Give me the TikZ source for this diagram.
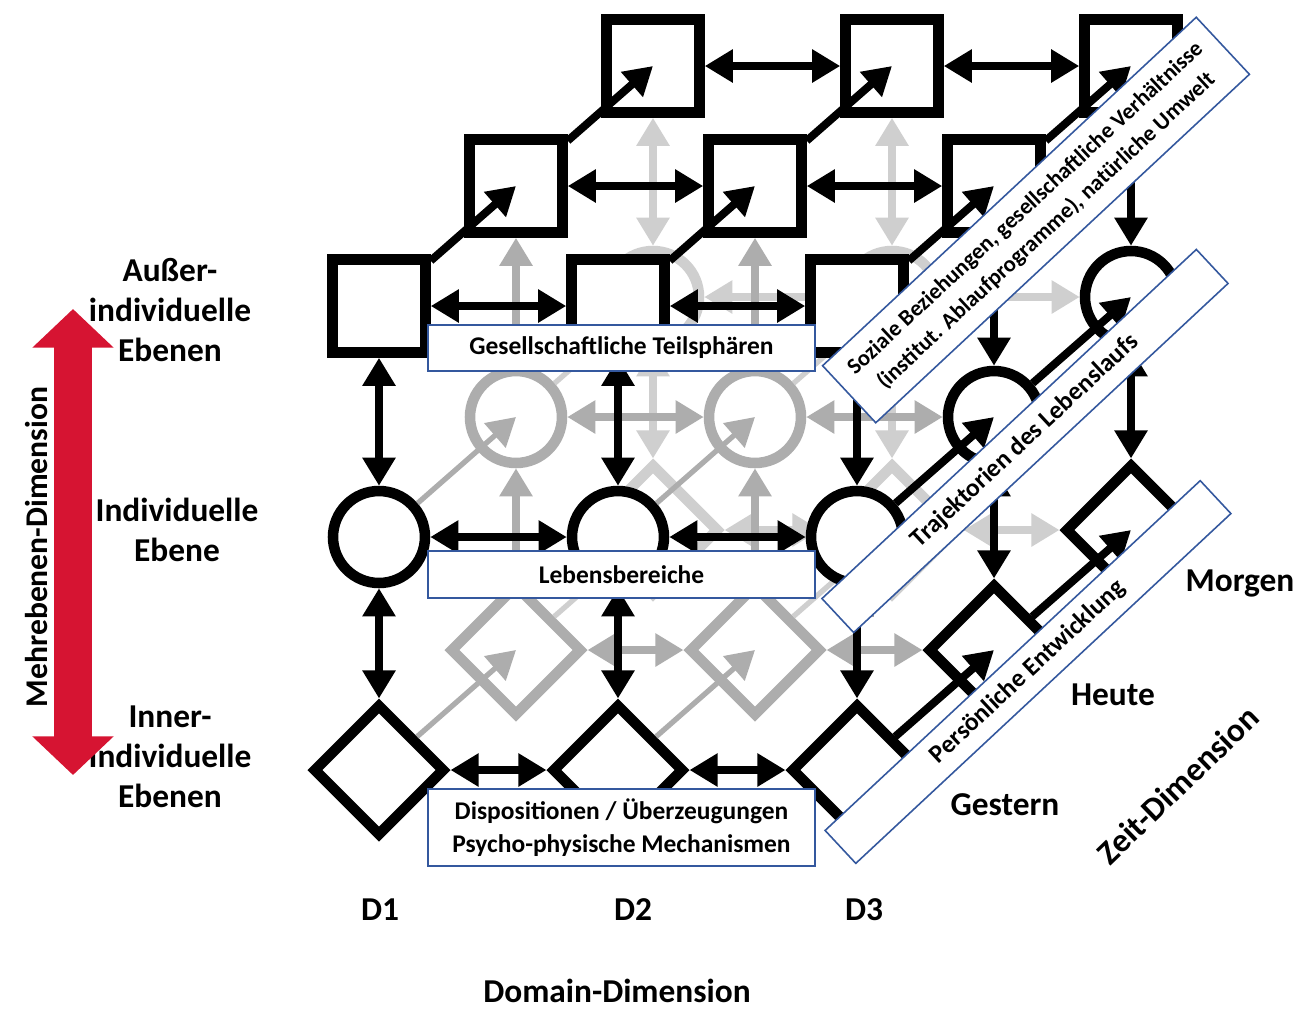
\documentclass[tikz,border=0pt]{standalone}
\usepackage{fontspec}
\setmainfont{Carlito}
\usetikzlibrary{arrows.meta,shapes.geometric,positioning}
\colorlet{midgrey}{black!32}
\colorlet{backgrey}{black!19}
\definecolor{boxblue}{RGB}{52,88,158}
\definecolor{levelred}{RGB}{214,20,50}

\begin{document}
\begin{tikzpicture}[x=0.02cm,y=-0.02cm,
    sq/.style={draw,rectangle,fill=white,line width=6pt,minimum size=1.86cm,inner sep=0pt},
    kr/.style={draw,circle,fill=white,line width=6pt,minimum size=1.84cm,inner sep=0pt},
    rh/.style={draw,diamond,fill=white,line width=6pt,minimum size=2.65cm,inner sep=0pt},
    link/.style={{Triangle[length=16pt,width=18pt]}-{Triangle[length=16pt,width=18pt]},line width=5pt},
    time/.style={-{Triangle[length=16pt,width=18pt]},line width=4.5pt},
    lbl/.style={font=\fontsize{19}{22.7}\selectfont\bfseries,align=center},
    tbox/.style={draw=boxblue,line width=0.9pt,fill=white,inner sep=0pt,align=center,
      font=\fontsize{14.5}{18.7}\selectfont\bfseries}]
  \useasboundingbox (0,0) rectangle (1299,1009);
  \fill[white] (0,0) rectangle (1299,1009);

  % three time layers, drawn from the back (Morgen) to the front (Gestern)
  \foreach \lay/\tone/\btone in {2/backgrey/backgrey,1/midgrey/backgrey,0/black/midgrey}{
    \foreach \col in {1,2,3}{
      \ifnum\col=3 \def\ctone{black}\else\edef\ctone{\tone}\fi
      \node[sq] (s\lay\col) at ({140+239*\col+137*\lay},{306-120*\lay}) {};
      \node[kr,draw=\ctone] (k\lay\col) at ({140+239*\col+137*\lay},{537-120*\lay}) {};
      \node[rh,draw=\ctone] (r\lay\col) at ({140+239*\col+137*\lay},{770-120*\lay}) {};
    }
    % time arrows into the layer behind
    \ifnum\lay<2
      \pgfmathtruncatemacro\nxt{\lay+1}
      \foreach \col in {1,2,3}{
        \ifnum\col=3 \def\ctone{black}\def\cw{4.5pt}\else\edef\ctone{\btone}\def\cw{3pt}\fi
        \draw[time] (s\lay\col) -- (s\nxt\col.center);
        \draw[time,color=\ctone,line width=\cw] (k\lay\col) -- (k\nxt\col.center);
        \draw[time,color=\ctone,line width=\cw] (r\lay\col) -- (r\nxt\col.center);
      }
    \fi
    % levels
    \foreach \col in {1,2,3}{
      \ifnum\col=3 \def\ctone{black}\else\edef\ctone{\tone}\fi
      \draw[link,color=\ctone] (s\lay\col) -- (k\lay\col);
      \draw[link,color=\ctone] (k\lay\col) -- (r\lay\col);
    }
    % domains
    \foreach \a/\b in {1/2,2/3}{
      \draw[link] (s\lay\a) -- (s\lay\b);
      \draw[link,color=\tone] (k\lay\a) -- (k\lay\b);
      \draw[link,color=\tone] (r\lay\a) -- (r\lay\b);
    }
  }

  % boxes
  \node[tbox,minimum width=7.74cm,minimum height=0.92cm] (ges) at (621.5,348) {Gesellschaftliche Teilsphären};
  \node[tbox,minimum width=7.74cm,minimum height=0.94cm] (leb) at (621.5,574.5) {Lebensbereiche};
  \node[tbox,minimum width=7.74cm,minimum height=1.54cm] (dis) at (621.5,827.5) {Dispositionen / Überzeugungen\\Psycho-physische Mechanismen};
  \node[tbox,rotate=43,minimum width=10.22cm,minimum height=1.56cm,
    font=\fontsize{12.9}{17.4}\selectfont\bfseries] (soz) at (1036,220)
    {Soziale Beziehungen, gesellschaftliche Verhältnisse\\(institut. Ablaufprogramme), natürliche Umwelt};
  \node[tbox,rotate=43,minimum width=10.24cm,minimum height=0.93cm] (tra) at (1025,441) {Trajektorien des Lebenslaufs};
  \node[tbox,rotate=43,minimum width=10.26cm,minimum height=0.9cm] (per) at (1028,672) {Persönliche Entwicklung};

  % level labels
  \node[lbl] (aus) at (170,310) {Außer-\\individuelle\\Ebenen};
  \node[lbl] (ind) at (177,530) {Individuelle\\Ebene};
  \node[lbl] (inn) at (170,757) {Inner-\\Individuelle\\Ebenen};
  \coordinate (rtop) at (73,309);
  \coordinate (rbot) at (73,775);
  \draw[levelred,line width=22pt,{Triangle[length=22pt,width=45pt]}-{Triangle[length=22pt,width=45pt]}] (rtop) -- (rbot);
  \node[lbl,rotate=90,font=\fontsize{18}{21}\selectfont\bfseries] (meh) at (37,547) {Mehrebenen-Dimension};

  % domain and time labels
  \node[lbl] (d1) at (380,910) {D1};
  \node[lbl] (d2) at (633,910) {D2};
  \node[lbl] (d3) at (864,910) {D3};
  \node[lbl,inner sep=0pt] (dom) at (617,991) {Domain-Dimension};
  \node[lbl] (mor) at (1240,583) {Morgen};
  \node[lbl] (heu) at (1113,695) {Heute};
  \node[lbl] (ges2) at (1005,805) {Gestern};
  \node[lbl,rotate=44] (zeit) at (1178,785) {Zeit-Dimension};
\end{tikzpicture}
\end{document}
